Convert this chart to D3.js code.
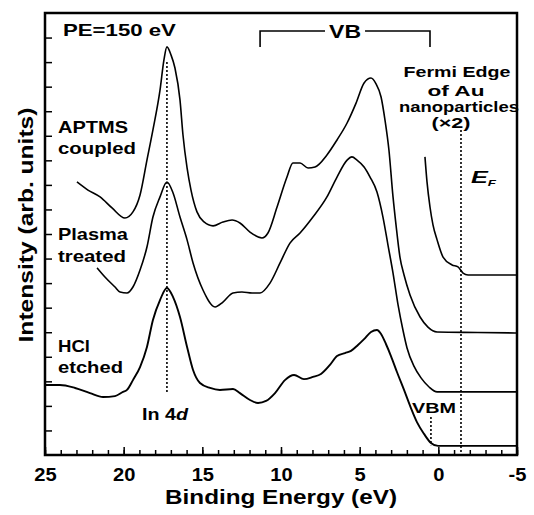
<!DOCTYPE html>
<html>
<head>
<meta charset="utf-8">
<script src="https://cdn.jsdelivr.net/npm/d3@7"></script>
<style>
  body { margin: 0; background: #fff; }
  svg text { font-family: "Liberation Sans", Arial, sans-serif; font-weight: bold; fill: #000; }
</style>
</head>
<body>
<svg id="chart" width="534" height="515"></svg>
<script>
// binding energy (eV) / intensity (arb. units)
const energyTicks = [25, 20, 15, 10, 5, 0, -5];
const intensityTicks = d3.range(1, 18);

const hclEtched = [
  [25.0, 2.85], [24.05, 2.85], [23.09, 2.73], [22.14, 2.52], [21.31, 2.36], [20.55, 2.40],
  [20.04, 2.57], [19.79, 2.65], [19.41, 3.05], [18.96, 3.58], [18.52, 4.40], [18.14, 5.50],
  [17.69, 6.31], [17.25, 6.80], [16.86, 6.43], [16.42, 5.62], [15.97, 4.40], [15.59, 3.46],
  [15.15, 2.93], [14.51, 2.73], [13.88, 2.65], [13.05, 2.69], [12.61, 2.52], [11.97, 2.24],
  [11.46, 2.12], [10.95, 2.20], [10.38, 2.52], [9.75, 3.05], [9.17, 3.26], [8.54, 3.09],
  [7.97, 3.18], [7.46, 3.30], [6.89, 3.67], [6.44, 4.03], [5.93, 4.15], [5.55, 4.24],
  [5.11, 4.48], [4.72, 4.72], [4.28, 5.01], [3.90, 5.09], [3.64, 4.93], [3.33, 4.52],
  [3.01, 4.03], [2.63, 3.38], [2.18, 2.65], [1.74, 1.91], [1.36, 1.34], [0.91, 0.86],
  [0.47, 0.49], [0.02, 0.37], [-2.5, 0.37], [-5.0, 0.37]
];

const plasmaTreated = [
  [21.69, 7.62], [21.19, 7.25], [20.55, 6.84], [20.23, 6.64], [19.79, 6.60], [19.41, 6.84],
  [18.96, 7.53], [18.52, 8.47], [18.14, 9.69], [17.69, 10.51], [17.25, 11.12], [16.86, 10.67],
  [16.42, 9.69], [15.97, 8.76], [15.59, 7.82], [14.96, 6.72], [14.19, 6.03], [13.69, 6.23],
  [13.05, 6.60], [12.48, 6.64], [11.84, 6.60], [11.33, 6.60], [10.70, 7.00], [10.06, 7.82],
  [9.43, 8.63], [8.79, 9.04], [7.97, 9.69], [7.08, 10.51], [6.44, 11.32], [5.80, 12.01],
  [5.49, 12.14], [5.17, 12.01], [4.72, 11.73], [4.34, 11.32], [3.90, 10.71], [3.52, 9.69],
  [3.20, 8.55], [2.88, 7.41], [2.56, 6.11], [2.25, 5.09], [1.99, 4.36], [1.55, 3.62],
  [1.10, 3.14], [0.59, 2.77], [0.08, 2.57], [-2.5, 2.57], [-5.0, 2.57]
];

const aptmsCoupled = [
  [22.97, 11.12], [22.27, 10.79], [21.50, 10.51], [20.74, 10.06], [19.92, 9.65], [19.41, 9.90],
  [18.96, 10.59], [18.52, 12.01], [18.14, 13.24], [17.69, 14.86], [17.44, 16.09], [17.25, 16.62],
  [16.99, 16.29], [16.74, 15.76], [16.42, 14.46], [16.23, 13.03], [15.97, 11.69], [15.72, 10.79],
  [15.34, 9.90], [14.89, 9.49], [14.32, 9.33], [13.69, 9.49], [13.11, 9.57], [12.61, 9.45],
  [11.97, 9.08], [11.21, 8.84], [10.83, 9.04], [10.25, 10.10], [9.62, 11.32], [9.24, 11.89],
  [8.79, 11.89], [8.28, 11.69], [7.84, 11.73], [7.08, 12.22], [6.44, 12.83], [5.80, 13.52],
  [5.23, 14.33], [4.72, 15.15], [4.28, 15.35], [3.96, 15.11], [3.64, 14.58], [3.39, 13.64],
  [3.14, 12.42], [2.88, 10.51], [2.69, 9.37], [2.44, 8.06], [2.18, 7.33], [1.80, 6.52],
  [1.16, 5.62], [0.66, 5.21], [0.08, 5.01], [-2.5, 4.99], [-5.0, 4.97]
];

const auFermiEdge = [
  [0.85, 12.14], [0.72, 11.12], [0.53, 10.10], [0.34, 9.37], [0.08, 8.76], [-0.30, 8.06],
  [-0.87, 7.74], [-1.25, 7.66], [-1.57, 7.41], [-1.89, 7.33], [-3.5, 7.33], [-5.0, 7.33]
];

// dotted markers: energy, lower and upper intensity
const markers = [
  { name: 'In 4d', e: 17.25, lo: 2.57, hi: 16.0 },
  { name: 'EF', e: -1.44, lo: 0.1, hi: 13.24 },
  { name: 'VBM', e: 0.47, lo: 0.4, hi: 1.55 }
];
const vbRange = [11.33, 0.53];

const svg = d3.select('#chart');
const x = d3.scaleLinear().domain([25, -5]).range([45, 517]);
const y = d3.scaleLinear().domain([0, 18]).range([455, 13]);

// axes, ticks inward
svg.append('g')
  .attr('transform', `translate(0,${y(0)})`)
  .call(d3.axisBottom(x).tickValues(d3.range(-5, 26, 1)).tickSize(-5).tickFormat(''))
  .call(g => g.select('.domain').remove());

const xAxis = svg.append('g')
  .attr('transform', `translate(0,${y(0)})`)
  .call(d3.axisBottom(x).tickValues(energyTicks).tickSize(-8).tickFormat(d => String(d)))
  .call(g => g.select('.domain').remove());
xAxis.selectAll('text')
  .attr('y', 26).attr('dy', null)
  .attr('font-size', 17.5)
  .attr('transform', 'scale(1.15,1)');

svg.append('g')
  .attr('transform', `translate(${x(25)},0)`)
  .call(d3.axisLeft(y).tickValues(intensityTicks).tickSize(-7).tickFormat(''))
  .call(g => g.select('.domain').remove());

svg.selectAll('.tick line').attr('stroke', '#000').attr('stroke-width', 1.5);

svg.append('rect')
  .attr('x', x(25)).attr('y', y(18))
  .attr('width', x(-5) - x(25)).attr('height', y(0) - y(18))
  .attr('fill', 'none').attr('stroke', '#000').attr('stroke-width', 2.5);

// spectra
const line = d3.line()
  .x(d => x(d[0]))
  .y(d => y(d[1]))
  .curve(d3.curveMonotoneX);

[hclEtched, plasmaTreated, aptmsCoupled, auFermiEdge].forEach((s, i) => {
  svg.append('path')
    .datum(s)
    .attr('d', line)
    .attr('fill', 'none')
    .attr('stroke', '#000')
    .attr('stroke-width', i === 0 ? 1.9 : 1.6)
    .attr('stroke-linejoin', 'round');
});

svg.selectAll('line.marker')
  .data(markers)
  .enter().append('line')
    .attr('class', 'marker')
    .attr('x1', d => x(d.e)).attr('x2', d => x(d.e))
    .attr('y1', d => y(d.hi)).attr('y2', d => y(d.lo))
    .attr('stroke', '#000')
    .attr('stroke-width', 1.6)
    .attr('stroke-dasharray', '2,2');

// VB bracket
const vbTop = y(17.27), vbEnd = y(16.62);
const vbMid = (x(vbRange[0]) + x(vbRange[1])) / 2;
svg.append('path')
  .attr('d', `M${x(vbRange[0])},${vbEnd}V${vbTop}H${vbMid - 20}M${vbMid + 20},${vbTop}H${x(vbRange[1])}V${vbEnd}`)
  .attr('fill', 'none').attr('stroke', '#000').attr('stroke-width', 1.6);

// labels: parts, position, size, width on the page
function label(parts, px, py, size, w, anchor) {
  const t = svg.append('text')
    .attr('font-size', size)
    .attr('text-anchor', anchor || 'start');
  parts.forEach(p => {
    const s = t.append('tspan').text(p.t);
    if (p.i) s.attr('font-style', 'italic');
    if (p.s) s.attr('font-size', p.s);
    if (p.dy) s.attr('dy', p.dy);
  });
  const nat = t.node().getComputedTextLength();
  t.attr('transform', `translate(${px},${py}) scale(${w / nat},1)`);
  return t;
}

label([{ t: 'PE=150 eV' }], 63, 36, 16, 113);
label([{ t: 'APTMS' }], 58, 133, 16.5, 70);
label([{ t: 'coupled' }], 58, 154, 16.5, 78);
label([{ t: 'Plasma' }], 58, 240, 16.5, 70);
label([{ t: 'treated' }], 58, 262, 16.5, 68);
label([{ t: 'HCl' }], 58, 352, 16.5, 32);
label([{ t: 'etched' }], 58, 373, 16.5, 65);
label([{ t: 'In 4' }, { t: 'd', i: 1 }], 142, 420, 16, 46);
label([{ t: 'VB' }], vbMid, 38, 18, 32, 'middle');
label([{ t: 'Fermi Edge' }], 457, 77, 15, 107, 'middle');
label([{ t: 'of Au' }], 456, 96, 15, 57, 'middle');
label([{ t: 'nanoparticles' }], 459, 112, 15, 120, 'middle');
label([{ t: '(\u00d72)' }], 451, 128, 15, 39, 'middle');
label([{ t: 'E', i: 1 }, { t: 'F', i: 1, s: 9, dy: 3 }], 471, 183, 17, 25);
label([{ t: 'VBM' }], 434, 413, 15, 44, 'middle');
label([{ t: 'Binding Energy (eV)' }], 281, 504, 20, 232, 'middle');

const yl = svg.append('text')
  .attr('font-size', 21)
  .attr('text-anchor', 'middle')
  .text('Intensity (arb. units)');
const ylw = yl.node().getComputedTextLength();
yl.attr('transform', `translate(33,225) rotate(-90) scale(${235 / ylw},1)`);
</script>
</body>
</html>
